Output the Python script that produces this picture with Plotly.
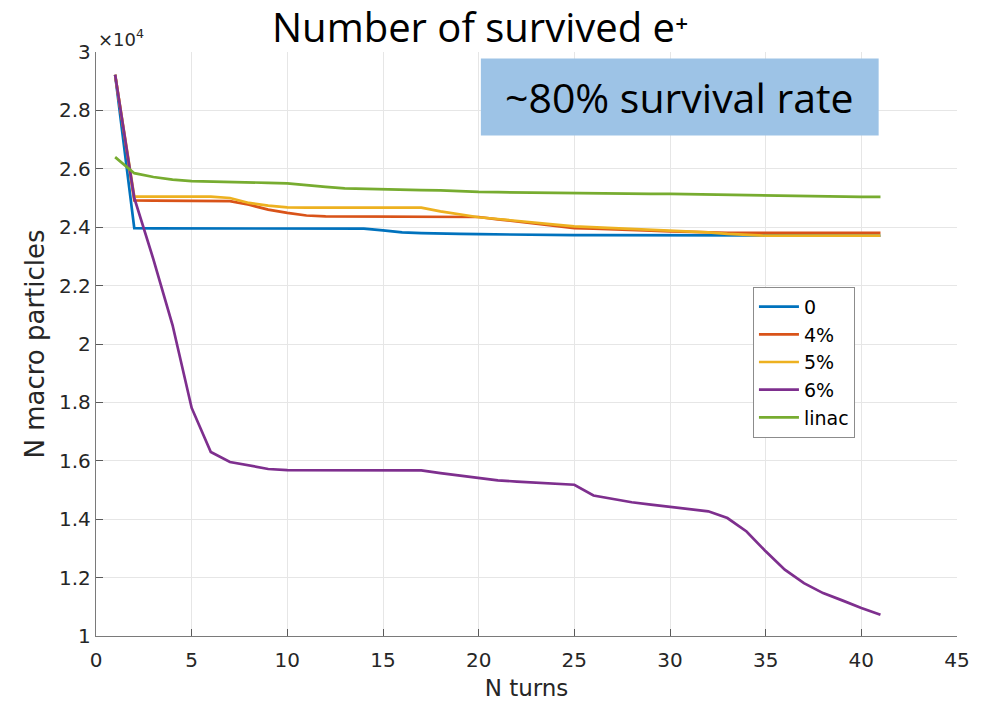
import plotly.graph_objects as go

# Turn index
turns = list(range(1, 42))

# Surviving macro particles per turn for each configuration
n_zero = [29220, 23970, 23960, 23960, 23960, 23960, 23960, 23960, 23960, 23960,
          23960, 23955, 23955, 23950, 23890, 23820, 23800, 23775, 23770, 23760,
          23750, 23745, 23740, 23735, 23730, 23728, 23726, 23724, 23722, 23720,
          23718, 23716, 23714, 23712, 23711, 23710, 23710, 23710, 23710, 23710, 23710]
n_4pct = [29220, 24920, 24910, 24910, 24910, 24910, 24890, 24770, 24600, 24490,
          24400, 24370, 24370, 24370, 24370, 24370, 24370, 24370, 24370, 24350,
          24270, 24190, 24120, 24040, 23970, 23950, 23920, 23900, 23880, 23860,
          23840, 23820, 23810, 23810, 23810, 23810, 23810, 23810, 23810, 23810, 23810]
n_5pct = [29220, 25050, 25050, 25050, 25050, 25050, 25000, 24830, 24740, 24680,
          24670, 24670, 24670, 24670, 24670, 24670, 24670, 24540, 24430, 24340,
          24280, 24210, 24150, 24090, 24030, 24000, 23970, 23940, 23910, 23890,
          23860, 23820, 23770, 23730, 23710, 23710, 23710, 23710, 23710, 23710, 23710]
n_6pct = [29220, 25000, 22900, 20650, 17810, 16300, 15960, 15830, 15720, 15680,
          15680, 15670, 15670, 15670, 15670, 15670, 15670, 15580, 15500, 15430,
          15330, 15290, 15260, 15220, 15180, 14810, 14690, 14580, 14500, 14420,
          14350, 14270, 14040, 13580, 12900, 12270, 11810, 11470, 11220, 10960, 10730]
n_linac = [26400, 25850, 25720, 25630, 25580, 25570, 25550, 25530, 25520, 25500,
           25430, 25380, 25330, 25310, 25300, 25290, 25270, 25260, 25230, 25210,
           25200, 25190, 25180, 25170, 25170, 25160, 25160, 25150, 25140, 25140,
           25130, 25120, 25110, 25090, 25080, 25060, 25050, 25050, 25040, 25040, 25040]

series_names = ["0", "4%", "5%", "6%", "linac"]
series_values = [n_zero, n_4pct, n_5pct, n_6pct, n_linac]
series_colors = ["#0072BD", "#D95319", "#EDB120", "#7E2F8E", "#77AC30"]

x_ticks = list(range(0, 46, 5))
y_tick_vals = [10000 + 2000 * i for i in range(11)]
y_tick_text = ["1", "1.2", "1.4", "1.6", "1.8", "2", "2.2", "2.4", "2.6", "2.8", "3"]

AX_FAMILY = "DejaVu Sans, Arial, sans-serif"
SLIDE_FAMILY = "Open Sans, sans-serif"

fig = go.Figure()
for name, vals, col in zip(series_names, series_values, series_colors):
    fig.add_trace(go.Scatter(x=turns, y=vals, mode="lines", name=name,
                             line=dict(color=col, width=2.7)))

axis_font = dict(family=AX_FAMILY, size=20, color="#262626")

fig.update_layout(
    width=992, height=704,
    margin=dict(l=96, r=35, t=52, b=68, autoexpand=False),
    paper_bgcolor="white", plot_bgcolor="white",
    showlegend=True,
    legend=dict(x=0.763, y=0.598, xanchor="left", yanchor="top",
                bgcolor="white", bordercolor="#8c8c8c", borderwidth=1,
                font=dict(family=AX_FAMILY, size=19, color="#000000"),
                tracegroupgap=0, itemwidth=40),
    xaxis=dict(range=[0, 45], tickvals=x_ticks, ticks="inside", ticklen=7,
               tickcolor="#5a5a5a", showline=True, linecolor="#7a7a7a", linewidth=1.4,
               showgrid=True, gridcolor="#e6e6e6", zeroline=False, mirror=False,
               tickfont=axis_font, ticklabelstandoff=6, automargin=False,
               title=dict(text="N turns", font=dict(family=AX_FAMILY, size=23, color="#262626"),
                          standoff=8)),
    yaxis=dict(range=[10000, 30000], tickvals=y_tick_vals, ticktext=y_tick_text,
               ticks="inside", ticklen=7, tickcolor="#5a5a5a", showline=True,
               linecolor="#7a7a7a", linewidth=1.4, showgrid=True, gridcolor="#e6e6e6",
               zeroline=False, tickfont=axis_font, automargin=False,
               title=dict(text="N macro particles", font=dict(family=AX_FAMILY, size=26, color="#262626"),
                          standoff=6)),
)

# Exponent marker above the y axis
fig.add_annotation(xref="paper", yref="paper", x=0.0, y=1.0, xanchor="left", yanchor="bottom",
                   text="×10<sup>4</sup>", showarrow=False, yshift=0,
                   font=dict(family=AX_FAMILY, size=18, color="#262626"))

# Title
fig.add_annotation(xref="paper", yref="paper", x=0.446, y=1.043, xanchor="center", yanchor="middle",
                   text="Number of survived e⁺", showarrow=False,
                   font=dict(family=SLIDE_FAMILY, size=40, color="#000000"))

# Highlight box with survival note
fig.add_shape(type="rect", xref="paper", yref="paper", x0=0.447, x1=0.909, y0=0.857, y1=0.989,
              fillcolor="#9DC3E6", line=dict(width=0), layer="above")
fig.add_annotation(xref="paper", yref="paper", x=0.678, y=0.923, xanchor="center", yanchor="middle",
                   text="~80% survival rate", showarrow=False,
                   font=dict(family=SLIDE_FAMILY, size=41, color="#000000"))

fig.write_html("out.html")
